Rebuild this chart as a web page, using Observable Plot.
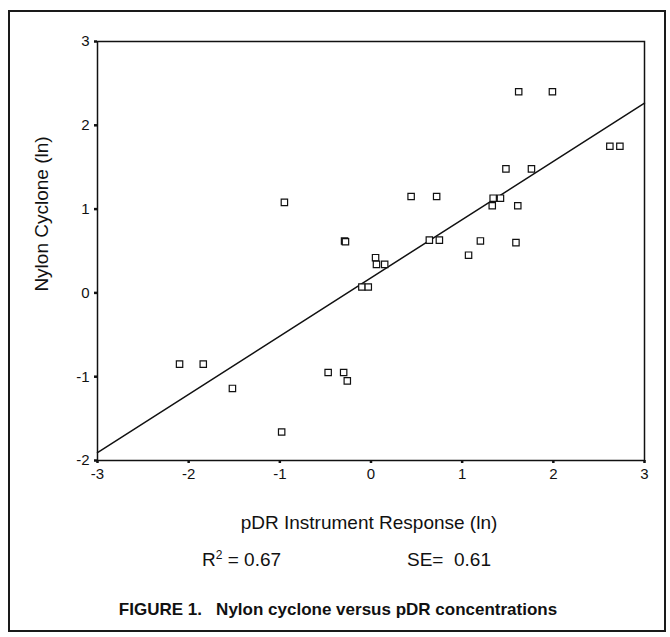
<!DOCTYPE html>
<html>
<head>
<meta charset="utf-8">
<script src="https://cdn.jsdelivr.net/npm/d3@7"></script>
<script src="https://cdn.jsdelivr.net/npm/@observablehq/plot@0.6"></script>
<style>
  html, body { margin: 0; padding: 0; background: #fff; }
  body { width: 670px; height: 637px; position: relative; overflow: hidden; font-family: "Liberation Sans", Arial, sans-serif; color: #111; }
  #border { position: absolute; left: 8px; top: 10px; width: 654px; height: 618px; border: 2px solid #1a1a1a; }
  #chart { position: absolute; left: 0; top: 0; }
  .txt { position: absolute; white-space: pre; line-height: 1; }
  #xlabel { left: 369px; top: 513px; transform: translateX(-50%); font-size: 19px; }
  #ylabel { left: 41px; top: 214px; transform: translate(-50%, -50%) rotate(-90deg); font-size: 19px; }
  #r2 { left: 202px; top: 550px; font-size: 19px; }
  #r2 sup { font-size: 12px; vertical-align: 0; position: relative; top: -7px; }
  #se { left: 407px; top: 550px; font-size: 19px; }
  #caption { left: 338px; top: 601px; transform: translateX(-50%); font-size: 17px; font-weight: bold; font-family: "Liberation Sans Narrow", "Arial Narrow", "Liberation Sans", Arial, sans-serif; }
</style>
</head>
<body>
<div id="border"></div>
<div id="chart"></div>
<div class="txt" id="xlabel">pDR Instrument Response (ln)</div>
<div class="txt" id="ylabel">Nylon Cyclone (ln)</div>
<div class="txt" id="r2">R<sup>2</sup> = 0.67</div>
<div class="txt" id="se">SE=  0.61</div>
<div class="txt" id="caption">FIGURE 1.   Nylon cyclone versus pDR concentrations</div>
<script>
// pDR instrument response (ln) for each sample
const pdrValues = [-2.10, -1.84, -1.52, -0.98, -0.95, -0.47, -0.30, -0.26, -0.29, -0.28,
  -0.10, -0.03, 0.05, 0.06, 0.15, 0.44, 0.72, 0.64, 0.75, 1.07,
  1.20, 1.59, 1.33, 1.34, 1.42, 1.61, 1.48, 1.76, 1.62, 1.99,
  2.62, 2.73];
// Nylon cyclone (ln) for each sample
const nylonValues = [-0.85, -0.85, -1.14, -1.66, 1.08, -0.95, -0.95, -1.05, 0.62, 0.61,
  0.07, 0.07, 0.42, 0.34, 0.34, 1.15, 1.15, 0.63, 0.63, 0.45,
  0.62, 0.60, 1.04, 1.13, 1.13, 1.04, 1.48, 1.48, 2.40, 2.40,
  1.75, 1.75];
// fitted regression line, read at the ends of the x axis
const fitX = [-3, 3];
const fitY = [-1.905, 2.265];
const xTicks = [-3, -2, -1, 0, 1, 2, 3];
const yTicks = [-2, -1, 0, 1, 2, 3];

const points = pdrValues.map((x, i) => ({x, y: nylonValues[i]}));
const fit = fitX.map((x, i) => ({x, y: fitY[i]}));

const chart = Plot.plot({
  width: 670,
  height: 500,
  marginLeft: 97,
  marginRight: 26,
  marginTop: 41,
  marginBottom: 40,
  style: {fontFamily: "'Liberation Sans', Arial, sans-serif", fontSize: "15px", color: "#111", background: "transparent"},
  x: {domain: [-3, 3]},
  y: {domain: [-2, 3]},
  marks: [
    Plot.frame({stroke: "#111", strokeWidth: 1.5}),
    Plot.axisX({ticks: xTicks, tickSize: 3, tickPadding: 5, strokeWidth: 2.5, label: null, fontSize: 15, tickFormat: d => String(d).replace("−", "-")}),
    Plot.axisY({ticks: yTicks, tickSize: 3, tickPadding: 5, strokeWidth: 2.5, label: null, fontSize: 15, tickFormat: d => String(d).replace("−", "-")}),
    Plot.line(fit, {x: "x", y: "y", stroke: "#111", strokeWidth: 1.5}),
    Plot.dot(points, {x: "x", y: "y", symbol: "square", r: 3.6, stroke: "#111", strokeWidth: 1.2, fill: "white"})
  ]
});
document.getElementById("chart").appendChild(chart);
</script>
</body>
</html>
